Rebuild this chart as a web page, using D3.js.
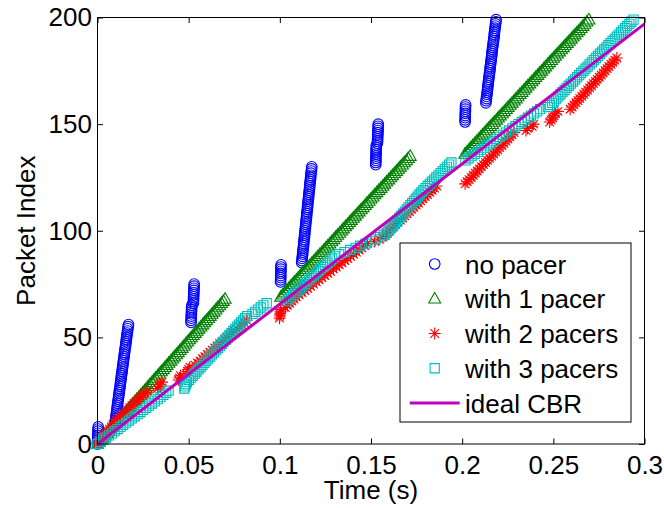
<!DOCTYPE html>
<html><head><meta charset="utf-8">
<script src="https://cdn.jsdelivr.net/npm/d3@7"></script>
<style>
body{margin:0;background:#fff}
text{font-family:"Liberation Sans",Arial,Helvetica,sans-serif}
</style>
</head><body>
<svg id="chart" width="664" height="508"></svg>
<script>
// ---- data ----
const xTicks = [0, 0.05, 0.1, 0.15, 0.2, 0.25, 0.3];
const yTicks = [0, 50, 100, 150, 200];
const seriesNames = ["no pacer", "with 1 pacer", "with 2 pacers", "with 3 pacers"];
const lineName = "ideal CBR";
const xLabel = "Time (s)";
const yLabel = "Packet Index";
// send time (ms) of each packet; array index = packet index
const noPacerMs = [0,0,0.1,0.1,0.2,0.2,0.3,0.3,0.4,
 9.5,9.7,9.8,10.0,10.1,10.3,10.5,10.6,10.8,10.9,11.1,11.2,11.4,11.6,11.7,11.9,12.0,12.2,12.4,12.5,12.7,12.8,13.0,13.1,13.3,13.5,13.6,13.8,13.9,14.1,14.2,14.4,14.6,14.7,14.9,15.0,15.2,15.4,15.5,15.7,15.8,16.0,16.1,16.3,16.5,16.6,16.8,17.0,
 51.3,51.3,51.4,51.4,51.5,51.5,51.6,51.6,51.7,52.6,52.6,52.7,52.7,52.8,52.8,52.9,52.9,53.0,53.0,
 100.4,100.4,100.5,100.5,100.5,100.6,100.6,100.6,100.7,
 112.0,112.1,112.2,112.4,112.5,112.6,112.7,112.9,113.0,113.1,113.2,113.3,113.5,113.6,113.7,113.8,114.0,114.1,114.2,114.3,114.4,114.6,114.7,114.8,114.9,115.1,115.2,115.3,115.4,115.5,115.7,115.8,115.9,116.0,116.2,116.3,116.4,116.5,116.6,116.8,116.9,117.0,117.1,117.3,117.4,117.5,
 152.6,152.6,152.7,152.7,152.7,152.8,152.8,152.8,152.9,152.9,153.5,153.6,153.6,153.7,153.7,153.8,153.8,153.9,153.9,154.0,
 201.6,201.6,201.7,201.7,201.7,201.8,201.8,201.8,201.9,
 213.0,213.1,213.3,213.4,213.6,213.7,213.9,214.0,214.1,214.3,214.4,214.6,214.7,214.9,215.0,215.2,215.3,215.4,215.6,215.7,215.9,216.0,216.2,216.3,216.4,216.6,216.7,216.9,217.0,217.2,217.3,217.5,217.6,217.7,217.9,218.0,218.2,218.3,218.5,218.6];
const pacer1Ms = [0,1.0,2.1,3.1,4.1,5.2,6.2,7.2,8.2,9.3,10.3,11.3,12.4,13.4,14.4,15.5,16.5,17.5,18.5,19.6,20.6,21.6,22.7,23.7,24.7,25.8,26.8,27.8,28.8,29.9,30.9,31.9,33.0,34.0,35.0,36.1,37.1,38.1,39.1,40.2,41.2,42.2,43.3,44.3,45.3,46.4,47.4,48.4,49.4,50.5,51.5,52.5,53.6,54.6,55.6,56.7,57.7,58.7,59.7,60.8,61.8,62.8,63.9,64.9,65.9,67.0,68.0,69.0,70.0,
 100.5,101.6,102.7,103.7,104.8,105.9,107.0,108.0,109.1,110.2,111.3,112.3,113.4,114.5,115.6,116.6,117.7,118.8,119.9,120.9,122.0,123.1,124.2,125.2,126.3,127.4,128.5,129.6,130.6,131.7,132.8,133.9,134.9,136.0,137.1,138.2,139.2,140.3,141.4,142.5,143.5,144.6,145.7,146.8,147.8,148.9,150.0,151.1,152.1,153.2,154.3,155.4,156.5,157.5,158.6,159.7,160.8,161.8,162.9,164.0,165.1,166.1,167.2,168.3,169.4,170.4,171.5,
 201.5,202.6,203.7,204.7,205.8,206.9,208.0,209.1,210.1,211.2,212.3,213.4,214.4,215.5,216.6,217.7,218.8,219.8,220.9,222.0,223.1,224.2,225.2,226.3,227.4,228.5,229.6,230.6,231.7,232.8,233.9,234.9,236.0,237.1,238.2,239.3,240.3,241.4,242.5,243.6,244.7,245.7,246.8,247.9,249.0,250.1,251.1,252.2,253.3,254.4,255.5,256.5,257.6,258.7,259.8,260.8,261.9,263.0,264.1,265.2,266.2,267.3,268.4,269.5];
const pacer2Ms = [0,0.9,1.9,2.8,3.8,4.7,5.7,6.6,7.6,8.5,9.5,
 10.5,11.7,12.9,14.1,15.3,16.5,17.7,18.9,20.1,21.3,22.5,23.7,24.9,26.1,
 27.5,33.0,33.8,34.6,35.4,
 44.5,45.0,45.5,
 48.8,49.4,50.0,50.6,
 53.5,54.8,56.2,57.5,58.9,60.2,61.6,62.9,64.3,65.6,67.0,68.3,69.7,71.0,72.4,73.7,75.1,76.4,77.8,79.1,80.5,81.8,
 99.8,100.0,100.2,100.4,100.6,
 103.0,104.2,105.4,106.6,107.8,109.0,
 110.6,112.2,113.7,115.3,116.9,118.4,120.0,121.6,123.1,124.7,126.3,127.9,129.4,131.0,132.6,134.1,135.7,137.3,138.8,140.4,142.0,
 143.5,145.0,146.5,148.0,152.0,154.5,156.5,158.0,
 158.6,159.8,161.1,162.3,163.6,164.8,166.1,167.3,168.6,169.8,171.1,172.3,173.5,174.8,176.0,177.3,178.5,179.8,181.0,182.3,183.5,184.8,186.0,
 201.6,202.7,203.8,205.0,206.1,207.2,208.3,209.4,210.6,211.7,212.8,213.9,215.0,216.2,217.3,218.4,219.5,220.6,221.8,222.9,224.0,225.1,226.2,227.4,228.5,
 235.0,235.8,238.4,239.2,
 248.0,248.8,249.6,250.4,251.2,252.5,
 259.2,260.3,261.3,262.4,263.5,264.5,265.6,266.7,267.7,268.8,269.9,270.9,272.0,273.1,274.1,275.2,276.3,277.3,278.4,279.5,280.5,281.6,282.7,283.7,284.8];
const pacer3Ms = [0,1.6,3.1,4.7,6.3,7.9,9.4,11.0,12.6,14.1,15.7,17.3,18.8,20.4,22.0,23.6,25.1,26.7,28.3,29.8,31.4,33.0,34.5,36.1,37.7,
 39.0,47.6,48.0,48.4,
 49.0,50.1,51.1,52.2,53.3,54.3,55.4,56.5,57.5,58.6,59.6,60.7,61.8,62.8,63.9,65.0,66.0,67.1,68.2,69.2,70.3,71.3,72.4,73.5,74.5,75.6,76.7,77.7,78.8,79.8,80.9,82.0,
 85.0,86.5,88.0,89.5,91.0,92.8,
 103.5,104.8,106.0,107.3,108.5,109.8,111.1,112.3,113.6,114.9,116.1,117.4,118.6,119.9,121.2,122.4,123.7,125.0,126.2,127.5,128.7,130.0,
 132.5,135.5,138.5,141.5,144.0,
 147.0,150.0,152.5,155.0,157.0,
 158.6,159.6,160.6,161.6,162.6,163.6,164.6,165.6,166.6,167.6,168.6,169.6,170.6,171.6,172.6,173.6,174.6,175.6,176.6,177.6,178.7,
 179.9,181.1,182.3,183.4,184.6,185.8,187.0,188.2,189.4,190.5,191.7,192.9,194.1,
 201.8,203.5,205.2,206.9,208.6,210.4,212.1,213.8,215.5,217.2,218.9,220.6,222.3,224.0,225.7,227.5,229.2,230.9,232.6,234.3,236.0,237.7,239.4,241.1,242.8,
 247.0,248.1,249.3,250.4,251.6,252.7,253.9,255.0,256.2,257.3,258.5,259.6,260.8,261.9,263.0,264.2,265.3,266.5,267.6,268.8,269.9,271.1,272.2,273.4,274.5,275.6,276.8,277.9,279.1,280.2,281.4,282.5,283.7,284.8,286.0,287.1,288.2,289.4,290.5,291.7,292.8,294.0];
const cbrTime = [0, 0.3];
const cbrPacket = [0, 197];

// ---- chart ----
const svg = d3.select("#chart");
const L = 97.5, R = 644.5, T = 17.5, B = 444;
const x = d3.scaleLinear().domain([0, 0.3]).range([L, R]);
const y = d3.scaleLinear().domain([0, 200]).range([B, T]);
const FS = 26;

const markers = {
  triangle: "M0,-6.3L6,4.3L-6,4.3Z",
  star: "M-6,0H6M0,-6V6M-4.3,-4.3L4.3,4.3M-4.3,4.3L4.3,-4.3",
  square: "M-4.6,-4.6H4.6V4.6H-4.6Z"
};
const styles = [
  {data: noPacerMs, color: "#0000ff", shape: "circle"},
  {data: pacer1Ms, color: "#008000", shape: "triangle"},
  {data: pacer2Ms, color: "#ff0000", shape: "star"},
  {data: pacer3Ms, color: "#00bfbf", shape: "square"}
];

function drawMarker(g, shape, color, cx, cy) {
  if (shape === "circle") {
    g.append("circle").attr("cx", cx).attr("cy", cy).attr("r", 5.3)
      .attr("fill", "none").attr("stroke", color).attr("stroke-width", 1.1);
  } else {
    g.append("path").attr("d", markers[shape]).attr("transform", `translate(${cx},${cy})`)
      .attr("fill", "none").attr("stroke", color).attr("stroke-width", 1.1)
      .attr("stroke-linejoin", "miter");
  }
}

svg.append("rect").attr("x", 0).attr("y", 0).attr("width", 664).attr("height", 508).attr("fill", "#fff");

// axes ticks
const fmt = d => d === 0 ? "0" : String(d);
const gx = svg.append("g").attr("transform", `translate(0,${B})`)
  .call(d3.axisBottom(x).tickValues(xTicks).tickSize(-5.5).tickSizeOuter(0).tickPadding(12).tickFormat(fmt));
const gxt = svg.append("g").attr("transform", `translate(0,${T})`)
  .call(d3.axisTop(x).tickValues(xTicks).tickSize(-5.5).tickSizeOuter(0).tickFormat(""));
const gy = svg.append("g").attr("transform", `translate(${L},0)`)
  .call(d3.axisLeft(y).tickValues(yTicks).tickSize(-5.5).tickSizeOuter(0).tickPadding(5.5));
const gyr = svg.append("g").attr("transform", `translate(${R},0)`)
  .call(d3.axisRight(y).tickValues(yTicks).tickSize(-5.5).tickSizeOuter(0).tickFormat(""));
[gx, gxt, gy, gyr].forEach(g => {
  g.select(".domain").remove();
  g.selectAll("line").attr("stroke", "#000").attr("stroke-width", 1);
  g.selectAll("text").attr("font-size", FS).attr("fill", "#000")
    .attr("font-family", "'Liberation Sans', Arial, sans-serif");
});

// series
styles.forEach(s => {
  const g = svg.append("g");
  s.data.forEach((ms, i) => drawMarker(g, s.shape, s.color, x(ms / 1000), y(i)));
});

// ideal CBR line
const line = d3.line().x(d => x(d[0])).y(d => y(d[1]));
svg.append("path").datum(cbrTime.map((t, i) => [t, cbrPacket[i]]))
  .attr("d", line).attr("fill", "none").attr("stroke", "#bf00bf").attr("stroke-width", 3);

// frame
svg.append("rect").attr("x", L).attr("y", T).attr("width", R - L).attr("height", B - T)
  .attr("fill", "none").attr("stroke", "#000").attr("stroke-width", 1);

// axis labels
svg.append("text").attr("x", (L + R) / 2).attr("y", 499).attr("text-anchor", "middle")
  .attr("font-size", FS).text(xLabel);
svg.append("text").attr("transform", `translate(35,${(T + B) / 2}) rotate(-90)`)
  .attr("text-anchor", "middle").attr("font-size", FS).text(yLabel);

// legend
const lg = svg.append("g");
lg.append("rect").attr("x", 400).attr("y", 243).attr("width", 231).attr("height", 179)
  .attr("fill", "#fff").attr("stroke", "#000").attr("stroke-width", 1);
const rowY = i => 264 + i * 34.75;
styles.forEach((s, i) => {
  drawMarker(lg, s.shape, s.color, 434.7, rowY(i));
  lg.append("text").attr("x", 465).attr("y", rowY(i) + 9.5).attr("font-size", FS).text(seriesNames[i]);
});
lg.append("line").attr("x1", 409.7).attr("x2", 459.7).attr("y1", rowY(4)).attr("y2", rowY(4))
  .attr("stroke", "#bf00bf").attr("stroke-width", 3);
lg.append("text").attr("x", 465).attr("y", rowY(4) + 9.5).attr("font-size", FS).text(lineName);
</script>
</body></html>
